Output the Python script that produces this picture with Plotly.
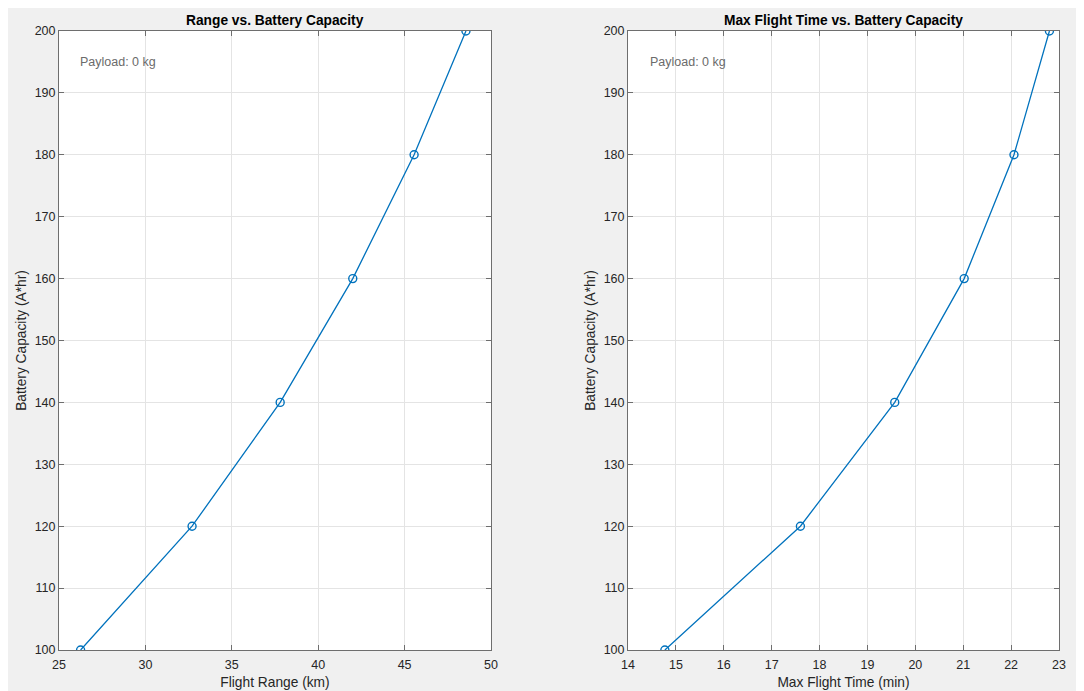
import plotly.graph_objects as go

# The page body adds an 8 px margin, so the figure is drawn 8 px smaller
OFF = 8
W, H = 1084 - OFF, 691 - OFF

capacity = [100, 120, 140, 160, 180, 200]
flight_range_km = [26.25, 32.7, 37.8, 42.0, 45.55, 48.55]
flight_time_min = [14.77, 17.6, 19.57, 21.02, 22.06, 22.8]

left_title = "Range vs. Battery Capacity"
right_title = "Max Flight Time vs. Battery Capacity"
x1_label = "Flight Range (km)"
x2_label = "Max Flight Time (min)"
y_label = "Battery Capacity (A*hr)"
note = "Payload: 0 kg"

FONT = "Liberation Sans, Arial, Helvetica, sans-serif"
LINE = "#0072BD"
AX = "#6e6e6e"
GRID = "#e4e4e4"
TXT = "#262626"
TICK_SIZE = 12.5
LABEL_SIZE = 13.75

def px(x):
    return (x - OFF) / W

def py(y):
    return 1 - (y - OFF) / H

fig = go.Figure()
for xs, xa, ya in [(flight_range_km, "x", "y"), (flight_time_min, "x2", "y2")]:
    fig.add_trace(go.Scatter(
        x=xs, y=capacity, xaxis=xa, yaxis=ya, mode="lines+markers",
        line=dict(color=LINE, width=1.3),
        marker=dict(symbol="circle-open", size=8, color=LINE, line=dict(width=1.4)),
        showlegend=False, hoverinfo="x+y"))

common_axis = dict(
    showline=True, linecolor=AX, linewidth=1, mirror="allticks",
    ticks="inside", ticklen=5, tickcolor=AX, tickwidth=1,
    showgrid=True, gridcolor=GRID, gridwidth=1, zeroline=False,
    automargin=False,
    tickfont=dict(family=FONT, size=TICK_SIZE, color=TXT),
)

def title(t, standoff):
    return dict(text=t, font=dict(family=FONT, size=LABEL_SIZE, color=TXT), standoff=standoff)

ydom = [py(650), py(31)]
fig.update_layout(
    width=W, height=H, autosize=False,
    margin=dict(l=0, r=0, t=0, b=0, pad=0, autoexpand=False),
    paper_bgcolor="#f0f0f0", plot_bgcolor="white",
    font=dict(family=FONT, color=TXT),
    xaxis=dict(domain=[px(59), px(491)], range=[25, 50], dtick=5, tick0=25,
               ticklabelstandoff=3, title=title(x1_label, 6), anchor="y", **common_axis),
    yaxis=dict(domain=ydom, range=[100, 200], dtick=10, tick0=100,
               title=title(y_label, 4), anchor="x", **common_axis),
    xaxis2=dict(domain=[px(628), px(1059)], range=[14, 23], dtick=1, tick0=14,
                ticklabelstandoff=3, title=title(x2_label, 6), anchor="y2", **common_axis),
    yaxis2=dict(domain=ydom, range=[100, 200], dtick=10, tick0=100,
                title=title(y_label, 4), anchor="x2", **common_axis),
    annotations=[
        dict(text="<b>%s</b>" % left_title, xref="paper", yref="paper",
             x=px(275), y=py(20), xanchor="center", yanchor="middle", showarrow=False,
             font=dict(family=FONT, size=LABEL_SIZE, color="#000000")),
        dict(text="<b>%s</b>" % right_title, xref="paper", yref="paper",
             x=px(843), y=py(20), xanchor="center", yanchor="middle", showarrow=False,
             font=dict(family=FONT, size=LABEL_SIZE, color="#000000")),
        dict(text=note, xref="paper", yref="paper", x=px(78), y=py(62),
             xanchor="left", yanchor="middle", showarrow=False,
             font=dict(family=FONT, size=12.5, color="#6b6b6b")),
        dict(text=note, xref="paper", yref="paper", x=px(648), y=py(62),
             xanchor="left", yanchor="middle", showarrow=False,
             font=dict(family=FONT, size=12.5, color="#6b6b6b")),
    ],
)

fig.write_html("out.html")
